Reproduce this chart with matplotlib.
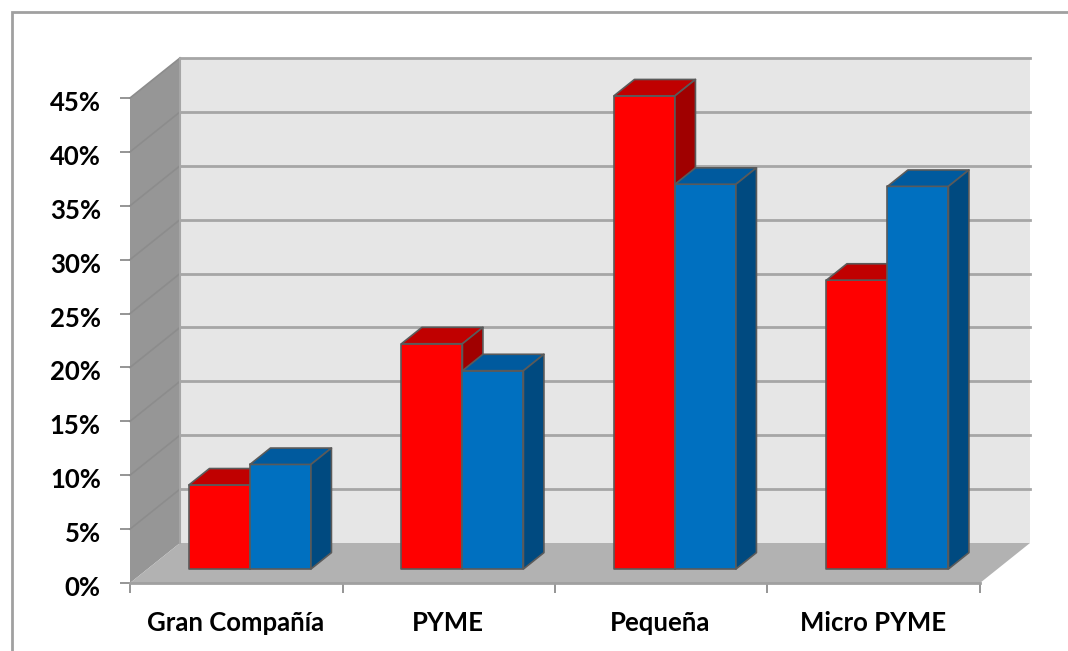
import matplotlib
matplotlib.use("Agg")
import matplotlib.pyplot as plt
from matplotlib.patches import Polygon, Rectangle
from matplotlib.transforms import ScaledTranslation

categories = ["Gran Compañía", "PYME", "Pequeña", "Micro PYME"]
red_values = [7.8, 20.9, 43.9, 26.8]
blue_values = [9.7, 18.4, 35.7, 35.5]
y_ticks = [0, 5, 10, 15, 20, 25, 30, 35, 40, 45]

W, H = 1068, 651
# pixel box of the front plane of the chart
X0, X1, Y0, Y1 = 130, 980, 583, 98

fig = plt.figure(figsize=(W / 100, H / 100), dpi=100)
ax = fig.add_axes([X0 / W, 1 - Y0 / H, (X1 - X0) / W, (Y0 - Y1) / H])
ax.set_xlim(0, 4)
ax.set_ylim(0, 45)

# one unit of depth in data units
dx = 50 / (X1 - X0) * 4
dy = 40 / (Y0 - Y1) * 45


def pt(x, y, d=0.0):
    return (x + d * dx, y + d * dy)


def face(points, color, edge=None, lw=0.0, z=1):
    ax.add_patch(Polygon(points, closed=True, facecolor=color, edgecolor=edge or color,
                         linewidth=lw, zorder=z, clip_on=False, joinstyle="round"))


# walls and floor
face([pt(0, 0, 1), pt(4, 0, 1), pt(4, 45, 1), pt(0, 45, 1)], "#e6e6e6")
face([pt(0, 0), pt(0, 0, 1), pt(0, 45, 1), pt(0, 45)], "#969696")
for v in y_ticks[1:]:
    ax.plot(*zip(pt(0, v), pt(0, v, 1)), color="#8c8c8c", lw=1.2, zorder=2, clip_on=False)
    ax.plot(*zip(pt(0, v, 1), pt(4, v, 1)), color="#a6a6a6", lw=2, zorder=2, clip_on=False)
ax.plot(*zip(pt(0, 0, 1), pt(0, 45, 1)), color="#a6a6a6", lw=1.5, zorder=2, clip_on=False)
face([pt(0, 0), pt(4, 0), pt(4, 0, 1), pt(0, 0, 1)], "#b2b2b2")
ax.plot(*zip(pt(0, 0), pt(4, 0)), color="#a0a0a0", lw=2, zorder=3, clip_on=False)


def bar(x, w, val, c_front, c_top, c_side, z):
    d0, d1 = 0.35, 0.76
    edge = "#5a5a5a"
    face([pt(x, 0, d0), pt(x + w, 0, d0), pt(x + w, val, d0), pt(x, val, d0)], c_front, edge, 1.2, z)
    face([pt(x, val, d0), pt(x + w, val, d0), pt(x + w, val, d1), pt(x, val, d1)], c_top, edge, 1.2, z)
    face([pt(x + w, 0, d0), pt(x + w, 0, d1), pt(x + w, val, d1), pt(x + w, val, d0)], c_side, edge, 1.2, z)


bar_w = 61 / (X1 - X0) * 4
for i in range(len(categories)):
    x = i + 0.195
    bar(x, bar_w, red_values[i], "#ff0000", "#c00000", "#a00000", 4 + i * 2)
    bar(x + bar_w, bar_w, blue_values[i], "#0070c0", "#005a9e", "#004a80", 5 + i * 2)

for s in ax.spines.values():
    s.set_visible(False)
ax.patch.set_visible(False)
ax.set_yticks(y_ticks)
ax.set_yticklabels([f"{v}%" for v in y_ticks], fontfamily="Lato", fontweight="bold",
                   fontsize=18.5, color="#000000")
ax.set_xticks(range(5))
ax.set_xticklabels([])
ax.set_xticks([i + 0.495 for i in range(4)], categories, minor=True, fontfamily="Lato",
              fontweight="bold", fontsize=18.5, color="#000000")
ax.tick_params(axis="y", length=7, width=1.3, color="#8c8c8c", pad=14)
ax.tick_params(axis="x", which="major", length=7, width=1.3, color="#8c8c8c")
ax.tick_params(axis="x", which="minor", length=0, pad=20.5)

# labels sit a little below their ticks in the original
for label in ax.get_yticklabels():
    label.set_transform(label.get_transform() + ScaledTranslation(0, -3 / 100, fig.dpi_scale_trans))

# outer frame of the chart area
fig.add_artist(Rectangle((12 / W, -0.1), 1.2, 1 - 12 / H + 0.1, transform=fig.transFigure,
                         fill=False, edgecolor="#a0a0a0", linewidth=2))

fig.savefig("out.png", dpi=100, facecolor="white")
